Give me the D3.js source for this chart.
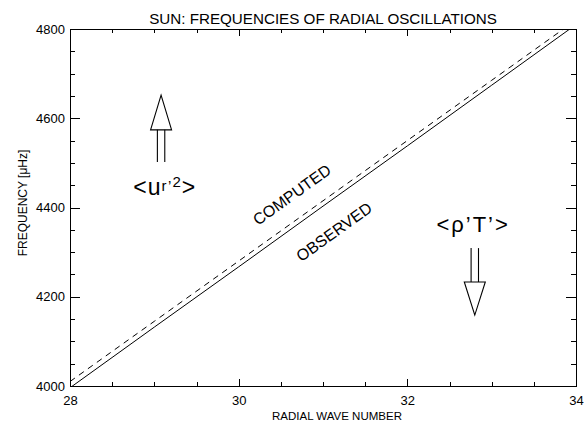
<!DOCTYPE html>
<html>
<head>
<meta charset="utf-8">
<script src="https://cdn.jsdelivr.net/npm/d3@7"></script>
<style>
  html, body { margin: 0; padding: 0; background: #fff; }
  svg { display: block; font-family: "Liberation Sans", Arial, Helvetica, sans-serif; }
  .axis path, .axis line { stroke: #000; stroke-width: 1; shape-rendering: crispEdges; }
  .axis text { font-size: 13px; fill: #000; }
</style>
</head>
<body>
<svg id="chart" width="584" height="424"></svg>
<script>
// Radial order n of the p modes (l = 0)
const radialOrder = [28, 29, 30, 31, 32, 33, 34];
// Frequencies in microhertz
const observedFreq = [3996, 4132, 4267, 4403, 4538, 4674, 4810];
const computedFreq = [4010, 4145, 4280, 4415, 4550, 4685, 4820];

const xMajorTicks = [28, 30, 32, 34];
const xMinorTicks = [28.5, 29, 29.5, 30.5, 31, 31.5, 32.5, 33, 33.5];
const yMajorTicks = [4000, 4200, 4400, 4600, 4800];
const yMinorTicks = [4050, 4100, 4150, 4250, 4300, 4350, 4450, 4500, 4550, 4650, 4700, 4750];

const titleText = "SUN: FREQUENCIES OF RADIAL OSCILLATIONS";
const xTitleText = "RADIAL WAVE NUMBER";
const yTitleText = "FREQUENCY [\u03BCHz]";

const W = 584, H = 424;
const margin = { left: 70, right: 8, top: 29, bottom: 38 };
const pw = W - margin.left - margin.right;
const ph = H - margin.top - margin.bottom;

const svg = d3.select("#chart");
const g = svg.append("g").attr("transform", `translate(${margin.left},${margin.top})`);

const x = d3.scaleLinear().domain([28, 34]).range([0, pw]);
const y = d3.scaleLinear().domain([4000, 4800]).range([ph, 0]);

// IDL-style inward ticks on all four sides
const xMaj = 0.02 * ph, yMaj = 0.02 * pw;

g.append("g").attr("class", "axis").attr("transform", `translate(0,${ph})`)
  .call(d3.axisBottom(x).tickValues(xMajorTicks).tickSizeInner(-xMaj).tickSizeOuter(0).tickPadding(10).tickFormat(d3.format("d")));
g.append("g").attr("class", "axis").attr("transform", `translate(0,${ph})`)
  .call(d3.axisBottom(x).tickValues(xMinorTicks).tickSizeInner(-xMaj / 2).tickSizeOuter(0).tickFormat(""));
g.append("g").attr("class", "axis")
  .call(d3.axisTop(x).tickValues(xMajorTicks).tickSizeInner(-xMaj).tickSizeOuter(0).tickFormat(""));
g.append("g").attr("class", "axis")
  .call(d3.axisTop(x).tickValues(xMinorTicks).tickSizeInner(-xMaj / 2).tickSizeOuter(0).tickFormat(""));

g.append("g").attr("class", "axis")
  .call(d3.axisLeft(y).tickValues(yMajorTicks).tickSizeInner(-yMaj).tickSizeOuter(0).tickPadding(5).tickFormat(d3.format("d")));
g.append("g").attr("class", "axis")
  .call(d3.axisLeft(y).tickValues(yMinorTicks).tickSizeInner(-yMaj / 2).tickSizeOuter(0).tickFormat(""));
g.append("g").attr("class", "axis").attr("transform", `translate(${pw},0)`)
  .call(d3.axisRight(y).tickValues(yMajorTicks).tickSizeInner(-yMaj).tickSizeOuter(0).tickFormat(""));
g.append("g").attr("class", "axis").attr("transform", `translate(${pw},0)`)
  .call(d3.axisRight(y).tickValues(yMinorTicks).tickSizeInner(-yMaj / 2).tickSizeOuter(0).tickFormat(""));

// Frequency lines, clipped to the plot box
svg.append("defs").append("clipPath").attr("id", "plotClip")
  .append("rect").attr("width", pw).attr("height", ph);

const line = d3.line().x(d => x(d[0])).y(d => y(d[1]));
const plot = g.append("g").attr("clip-path", "url(#plotClip)");

plot.append("path")
  .datum(radialOrder.map((n, i) => [n, observedFreq[i]]))
  .attr("d", line).attr("fill", "none").attr("stroke", "#000").attr("stroke-width", 1);

plot.append("path")
  .datum(radialOrder.map((n, i) => [n, computedFreq[i]]))
  .attr("d", line).attr("fill", "none").attr("stroke", "#000").attr("stroke-width", 1)
  .attr("stroke-dasharray", "6,5");

// Line labels, rotated along the slope of the lines
const slopeDeg = Math.atan2(y(observedFreq[0]) - y(observedFreq[6]), x(34) - x(28)) * 180 / Math.PI;

function lineLabel(text, xv, yv) {
  g.append("text")
    .attr("transform", `translate(${x(xv)},${y(yv)}) rotate(${-slopeDeg})`)
    .attr("text-anchor", "middle").attr("dominant-baseline", "middle")
    .attr("font-size", 16).attr("fill", "#000")
    .text(text);
}
lineLabel("COMPUTED", 30.64, 4426);
lineLabel("OBSERVED", 31.14, 4343);

// Open arrows: triangle head plus a double-line shaft
function arrow(xv, tipV, baseV, tailV) {
  const cx = x(xv), tip = y(tipV), base = y(baseV), tail = y(tailV);
  const hw = 10.5, sw = 3.7;
  g.append("path")
    .attr("d", `M${cx},${tip} L${cx - hw},${base} L${cx + hw},${base} Z`)
    .attr("fill", "none").attr("stroke", "#000").attr("stroke-width", 1.1);
  [-sw, sw].forEach(o => {
    g.append("line")
      .attr("x1", cx + o).attr("x2", cx + o).attr("y1", base).attr("y2", tail)
      .attr("stroke", "#000").attr("stroke-width", 1.1);
  });
}
arrow(29.08, 4652, 4574, 4502);
arrow(32.80, 4159, 4233, 4309);

// <u_r'^2>
const ur = g.append("text")
  .attr("x", x(28.75)).attr("y", y(4428))
  .attr("font-size", 23).attr("letter-spacing", 1).attr("fill", "#000");
ur.append("tspan").text("<u");
ur.append("tspan").attr("font-size", 15).attr("dy", -4).text("r\u2019");
ur.append("tspan").attr("font-size", 15).attr("dy", -4).text("2");
ur.append("tspan").attr("dy", 8).text(">");

// <rho'T'>
g.append("text")
  .attr("x", x(32.78)).attr("y", y(4345))
  .attr("text-anchor", "middle")
  .attr("font-size", 22).attr("letter-spacing", 2).attr("fill", "#000")
  .text("<\u03C1\u2019T\u2019>");

// Titles
svg.append("text")
  .attr("x", margin.left + pw / 2).attr("y", 24)
  .attr("text-anchor", "middle").attr("font-size", 15.2).attr("fill", "#000")
  .text(titleText);

svg.append("text")
  .attr("x", 337).attr("y", 420)
  .attr("text-anchor", "middle").attr("font-size", 11.5).attr("fill", "#000")
  .text(xTitleText);

svg.append("text")
  .attr("transform", "translate(26.5,203) rotate(-90)")
  .attr("text-anchor", "middle").attr("font-size", 12).attr("fill", "#000")
  .text(yTitleText);
</script>
</body>
</html>
